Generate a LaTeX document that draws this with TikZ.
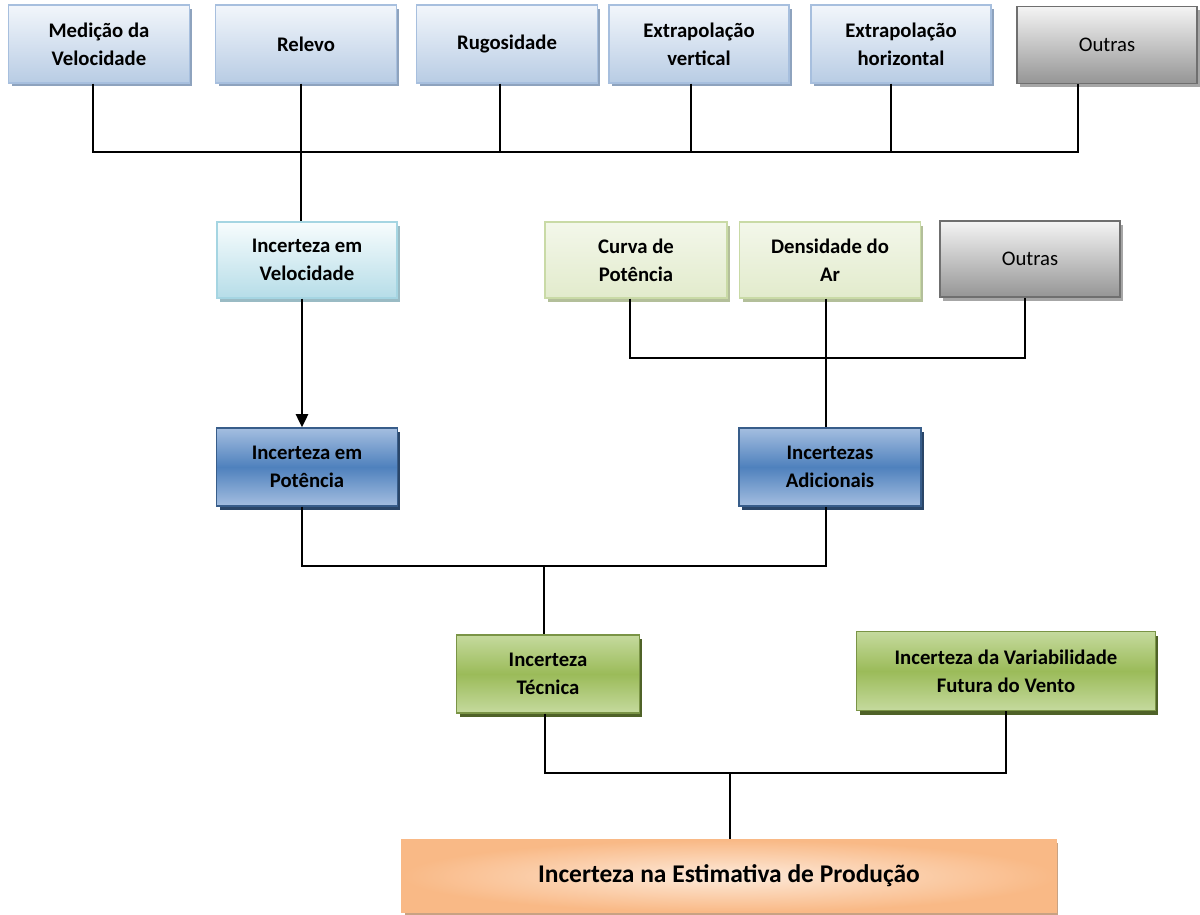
\documentclass[tikz,border=0pt]{standalone}
\usepackage{fontspec}
\setmainfont{Carlito}
\usetikzlibrary{arrows.meta,shadows}

\definecolor{skytop}{HTML}{F2F6FB}
\definecolor{skybot}{HTML}{B8CCE4}
\definecolor{skyline}{HTML}{A7BFDE}
\definecolor{skyshade}{HTML}{8EA3BE}
\definecolor{greytop}{HTML}{F4F4F4}
\definecolor{greybot}{HTML}{959595}
\definecolor{greyline}{HTML}{6F6F6F}
\definecolor{cyantop}{HTML}{F7FCFD}
\definecolor{cyanbot}{HTML}{B6DDE8}
\definecolor{cyanline}{HTML}{A5D5E2}
\definecolor{leaftop}{HTML}{F3F7EA}
\definecolor{leafbot}{HTML}{E2EBCC}
\definecolor{leafline}{HTML}{C9DAA6}
\definecolor{navytop}{HTML}{A4BEE0}
\definecolor{navymid}{HTML}{4F81BD}
\definecolor{navyline}{HTML}{385D8A}
\definecolor{navyshade}{HTML}{2A4668}
\definecolor{mosstop}{HTML}{C5DA9E}
\definecolor{mossmid}{HTML}{9BBB59}
\definecolor{mossline}{HTML}{7A9446}
\definecolor{mossshade}{HTML}{4F6228}
\definecolor{peachin}{HTML}{FDEADA}
\definecolor{peachout}{HTML}{F9B986}

\begin{document}
\begin{tikzpicture}[x=0.02cm,y=-0.02cm,
  every node/.style={font=\fontsize{11.8}{16}\selectfont\bfseries},
  box/.style={rectangle,align=center,inner sep=2pt,line width=.8pt,
    minimum width=3.62cm,minimum height=1.56cm},
  skybox/.style={box,draw=skyline,top color=skytop,bottom color=skybot,
    general shadow={shadow xshift=.06cm,shadow yshift=-.07cm,fill=skyshade}},
  greybox/.style={box,draw=greyline,top color=greytop,bottom color=greybot,
    font=\fontsize{11.8}{16}\selectfont\mdseries,
    general shadow={shadow xshift=.06cm,shadow yshift=-.07cm,fill=black!35}},
  cyanbox/.style={box,draw=cyanline,top color=cyantop,bottom color=cyanbot,
    general shadow={shadow xshift=.06cm,shadow yshift=-.07cm,fill=cyanline!70!gray}},
  leafbox/.style={box,draw=leafline,top color=leaftop,bottom color=leafbot,
    general shadow={shadow xshift=.06cm,shadow yshift=-.07cm,fill=leafline!70!gray}},
  navybox/.style={box,draw=navyline,top color=navytop,bottom color=navytop,middle color=navymid,
    general shadow={shadow xshift=.06cm,shadow yshift=-.08cm,fill=navyshade}},
  mossbox/.style={box,draw=mossline,top color=mosstop,bottom color=mosstop,middle color=mossmid,
    general shadow={shadow xshift=.06cm,shadow yshift=-.08cm,fill=mossshade}},
  wire/.style={line width=1pt,black}]

\useasboundingbox (0,0) rectangle (1200,914);

% top row
\node[skybox] (med) at (99,44) {Medição da\\Velocidade};
\node[skybox] (rel) at (306,44) {Relevo};
\node[skybox] (rug) at (507,44) {Rugosidade};
\node[skybox,minimum width=3.6cm] (exv) at (699,44) {Extrapolação\\vertical};
\node[skybox,minimum width=3.6cm] (exh) at (901,44) {Extrapolação\\horizontal};
\node[greybox,minimum width=3.6cm,minimum height=1.54cm] (out1) at (1107,45) {Outras};

% second row
\node[cyanbox,minimum width=3.6cm,minimum height=1.52cm] (vel) at (307,260) {Incerteza em\\Velocidade};
\node[leafbox,minimum width=3.64cm,minimum height=1.52cm] (cur) at (636,260) {Curva de\\Potência};
\node[leafbox,minimum width=3.62cm,minimum height=1.52cm] (den) at (830,260) {Densidade do\\Ar};
\node[greybox,minimum width=3.6cm,minimum height=1.52cm] (out2) at (1030,259) {Outras};

% third row
\node[navybox] (pot) at (307,467) {Incerteza em\\Potência};
\node[navybox,minimum width=3.64cm] (adi) at (830,467) {Incertezas\\Adicionais};

% fourth row
\node[mossbox,minimum width=3.66cm] (tec) at (548,674) {Incerteza\\Técnica};
\node[mossbox,minimum width=5.98cm,minimum height=1.58cm] (var) at (1006,671) {Incerteza da Variabilidade\\Futura do Vento};

% result
\node[box,draw=peachout,inner color=peachin,outer color=peachout,
  minimum width=13.08cm,minimum height=1.44cm,
  font=\fontsize{14.5}{18}\selectfont\bfseries,
  general shadow={shadow xshift=.05cm,shadow yshift=-.05cm,fill=peachout!60!gray}] (prd) at (729,876)
  {Incerteza na Estimativa de Produção};

% junctions
\coordinate (t1) at (93,152);
\coordinate (t2) at (301,152);
\coordinate (t3) at (500,152);
\coordinate (t4) at (691,152);
\coordinate (t5) at (891,152);
\coordinate (t6) at (1078,152);
\coordinate (m1) at (630,358);
\coordinate (m2) at (826,358);
\coordinate (m3) at (1025,358);
\coordinate (p1) at (302,566);
\coordinate (p2) at (544,566);
\coordinate (p3) at (826,566);
\coordinate (b1) at (545,773);
\coordinate (b2) at (730,773);
\coordinate (b3) at (1006,773);

\draw[wire] (med.south -| t1) -- (t1) -- (t6) -- (out1.south -| t6);
\draw[wire] (rel.south -| t2) -- (vel.north -| t2);
\draw[wire] (rug.south -| t3) -- (t3);
\draw[wire] (exv.south -| t4) -- (t4);
\draw[wire] (exh.south -| t5) -- (t5);

\draw[wire,-{Triangle[width=7pt,length=7.5pt]}] (vel.south -| p1) -- (pot.north -| p1);

\draw[wire] (cur.south -| m1) -- (m1) -- (m3) -- (out2.south -| m3);
\draw[wire] (den.south -| m2) -- (adi.north -| m2);

\draw[wire] (pot.south -| p1) -- (p1) -- (p3) -- (adi.south -| p3);
\draw[wire] (p2) -- (tec.north -| p2);

\draw[wire] (tec.south -| b1) -- (b1) -- (b3) -- (var.south -| b3);
\draw[wire] (b2) -- (prd.north -| b2);

\end{tikzpicture}
\end{document}
